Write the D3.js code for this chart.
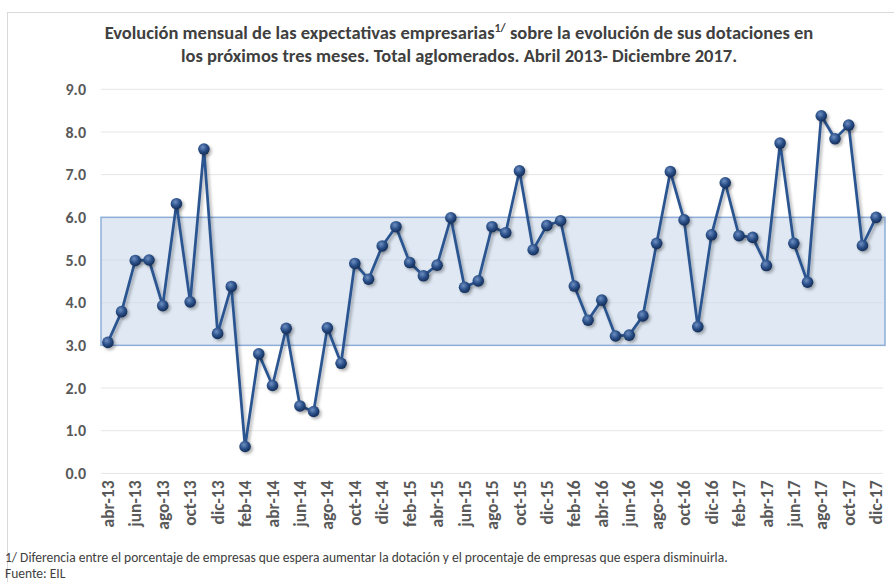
<!DOCTYPE html>
<html>
<head>
<meta charset="utf-8">
<script src="https://cdn.jsdelivr.net/npm/d3@7"></script>
<style>
  body { margin: 0; background: #fff; }
  svg { font-family: Carlito, "Liberation Sans Narrow", "Open Sans", sans-serif; }
</style>
</head>
<body>
<svg id="chart"></svg>
<script>
// etiquetas de meses abr-13 .. dic-17
const mesesCal = ["ene","feb","mar","abr","may","jun","jul","ago","sep","oct","nov","dic"];
const etiquetas = [];
for (var a = 13; a <= 17; a++) {
    for (var k = 0; k < 12; k++) {
        if (a == 13 && k < 3) continue;
        etiquetas.push(mesesCal[k] + "-" + a);
    }
}

const valores = [3.07, 3.79, 4.99, 5.00, 3.93, 6.32, 4.02, 7.60, 3.28,
    4.38, 0.63, 2.80, 2.06, 3.40, 1.58, 1.45, 3.41, 2.58, 4.92, 4.55, 5.33,
    5.78, 4.94, 4.63, 4.88, 5.99, 4.36, 4.51, 5.78, 5.64, 7.09, 5.24, 5.81,
    5.92, 4.39, 3.59, 4.06, 3.22, 3.24, 3.69, 5.39, 7.07, 5.94, 3.44, 5.59,
    6.81, 5.57, 5.53, 4.87, 7.74, 5.39, 4.48, 8.38, 7.84, 8.16, 5.34, 6.00];

const yTicks = [0, 1, 2, 3, 4, 5, 6, 7, 8, 9];
const banda = [3, 6];
const titulo1 = "Evolución mensual de las expectativas empresarias";
const titulo1b = " sobre la evolución de sus dotaciones en";
const titulo2 = "los próximos tres meses. Total aglomerados. Abril  2013- Diciembre 2017.";
const nota = "1/ Diferencia entre el porcentaje de empresas que espera aumentar la dotación y el procentaje de empresas que espera disminuirla.";
const fuente = "Fuente: EIL";

var svgWidth = 894, svgHeight = 582;
var margin = {top: 89.3, right: 11, bottom: 108.6, left: 101};
var width = svgWidth - margin.left - margin.right;
var height = svgHeight - margin.top - margin.bottom;

var svg = d3.select("#chart")
    .attr("width", svgWidth)
    .attr("height", svgHeight);

var defs = svg.append("defs");
var grad = defs.append("radialGradient")
    .attr("id", "bola")
    .attr("cx", "40%").attr("cy", "35%").attr("r", "65%");
grad.append("stop").attr("offset", "0%").attr("stop-color", "#6e8fc2");
grad.append("stop").attr("offset", "55%").attr("stop-color", "#2b5089");
grad.append("stop").attr("offset", "100%").attr("stop-color", "#142d57");
var sombra = defs.append("filter").attr("id", "sombra")
    .attr("x", "-20%").attr("y", "-20%").attr("width", "140%").attr("height", "140%");
sombra.append("feDropShadow")
    .attr("dx", 2).attr("dy", 2).attr("stdDeviation", 1.5)
    .attr("flood-color", "#000").attr("flood-opacity", 0.3);

// borde del grafico
svg.append("rect")
    .attr("x", 7.5).attr("y", 12.5)
    .attr("width", 900).attr("height", 600)
    .attr("fill", "none")
    .attr("stroke", "#d9d9d9");

// titulo
var t1 = svg.append("text")
    .attr("x", 459).attr("y", 39)
    .attr("text-anchor", "middle")
    .attr("font-size", 18.5).attr("font-weight", "bold")
    .attr("fill", "#404040");
t1.append("tspan").text(titulo1);
t1.append("tspan").attr("font-size", 12).attr("dy", -7).text("1/");
t1.append("tspan").attr("dy", 7).text(titulo1b);
svg.append("text")
    .attr("x", 459).attr("y", 62)
    .attr("text-anchor", "middle")
    .attr("font-size", 18.5).attr("font-weight", "bold")
    .attr("fill", "#404040")
    .text(titulo2);

var g = svg.append("g")
    .attr("transform", "translate(" + margin.left + "," + margin.top + ")");

var x = d3.scaleBand()
    .domain(etiquetas)
    .range([0, width]);

var y = d3.scaleLinear()
    .domain([0, 9])
    .range([height, 0]);

// lineas de grilla
g.append("g")
    .selectAll("line")
    .data(yTicks)
    .enter().append("line")
    .attr("x1", 0).attr("x2", width)
    .attr("y1", function(d) { return y(d); })
    .attr("y2", function(d) { return y(d); })
    .attr("stroke", "#e6e6e6")
    .attr("stroke-width", 1);

// banda 3-6
g.append("rect")
    .attr("x", 0)
    .attr("y", y(banda[1]))
    .attr("width", width + 2)
    .attr("height", y(banda[0]) - y(banda[1]))
    .attr("fill", "#c5d5ea")
    .attr("fill-opacity", 0.55)
    .attr("stroke", "#8eaed8")
    .attr("stroke-width", 1.5);

// eje y
var yAxis = g.append("g")
    .call(d3.axisLeft(y).tickValues(yTicks).tickFormat(d3.format(".1f")).tickSize(0).tickPadding(15));
yAxis.attr("font-family", null).attr("font-size", null);
yAxis.select(".domain").remove();
yAxis.selectAll("text")
    .attr("font-size", 16).attr("font-weight", "bold")
    .attr("fill", "#595959");

// eje x
var xAxis = g.append("g")
    .attr("transform", "translate(0," + height + ")")
    .call(d3.axisBottom(x)
        .tickValues(etiquetas.filter(function(d, i) { return i % 2 == 0; }))
        .tickSize(0));
xAxis.attr("font-family", null).attr("font-size", null);
xAxis.select(".domain").remove();
xAxis.selectAll("text")
    .attr("font-size", 17.5).attr("font-weight", "bold")
    .attr("fill", "#595959")
    .attr("transform", "rotate(-90)")
    .attr("text-anchor", "end")
    .attr("x", -7).attr("y", 0)
    .attr("dy", "0.35em");

// linea
var puntos = valores.map(function(v, i) { return {mes: etiquetas[i], valor: v}; });
var line = d3.line()
    .x(function(d) { return x(d.mes) + x.bandwidth() / 2; })
    .y(function(d) { return y(d.valor); });

g.append("path")
    .datum(puntos)
    .attr("fill", "none")
    .attr("stroke", "#2c5590")
    .attr("stroke-width", 2.75)
    .attr("stroke-linejoin", "round")
    .attr("filter", "url(#sombra)")
    .attr("d", line);

g.append("g")
    .attr("filter", "url(#sombra)")
    .selectAll("circle")
    .data(puntos)
    .enter().append("circle")
    .attr("cx", function(d) { return x(d.mes) + x.bandwidth() / 2; })
    .attr("cy", function(d) { return y(d.valor); })
    .attr("r", 5.8)
    .attr("fill", "url(#bola)");

// notas
svg.append("text")
    .attr("x", 5).attr("y", 562)
    .attr("font-size", 13.5).attr("fill", "#404040")
    .text(nota);
svg.append("text")
    .attr("x", 5).attr("y", 578)
    .attr("font-size", 13.5).attr("fill", "#404040")
    .text(fuente);
</script>
</body>
</html>
